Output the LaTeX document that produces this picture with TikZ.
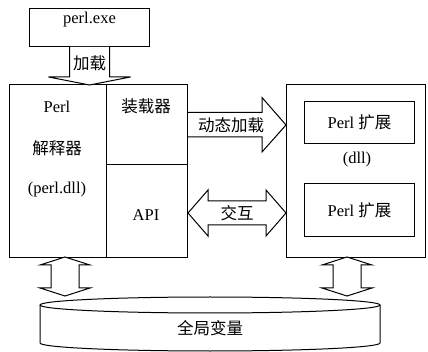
\documentclass[tikz,border=0pt]{standalone}
\usepackage{fontspec}
\setmainfont{Liberation Serif}
\newfontfamily\cjk{Noto Sans CJK SC}
\usetikzlibrary{calc}

\begin{document}
\begin{tikzpicture} [x=1pt, y=-1pt, line width=1pt, font=\fontsize{16.5}{20}\selectfont,
  box/.style={draw, inner sep=0, anchor=north west},
  txt/.style={inner sep=1}]
\useasboundingbox (0,0) rectangle (428,352);
% boxes
\node[box, minimum width=120, minimum height=38] (exe) at (29,8) {};
\node[box, minimum width=97, minimum height=173] (interp) at (9,84) {};
\node[box, minimum width=81, minimum height=80] (loader) at (106,84) {};
\node[box, minimum width=81, minimum height=93] (api) at (106,164) {};
\node[box, minimum width=139, minimum height=173] (ext) at (286,84) {};
\node[box, minimum width=110, minimum height=42] (extA) at (304,101) {};
\node[box, minimum width=110, minimum height=53] (extB) at (304,183) {};
% texts
\node[txt] (exeT) at ($(exe.north)+(0,12)$) {perl.exe};
\node[txt] (perlT) at (57,107) {Perl};
\node[txt] (interpT) at (57,148) {\cjk 解释器};
\node[txt] (dllT) at (57,190) {(perl.dll)};
\node[txt] (loaderT) at (146,106) {\cjk 装载器};
\node[txt] (apiT) at (146,215) {API};
\node[txt] (extAT) at (extA) {Perl {\cjk 扩展}};
\node[txt] (extBT) at (extB) {Perl {\cjk 扩展}};
\node[txt] (extT) at (357,160) {(dll)};
% block arrows
\coordinate (L) at (exe.south);
\draw[fill=white] ($(L)+(-20,0)$) --++(0,30) --++(-21,0) -- ($(interp.north -| L)+(0,1)$)
  -- ($(L)+(41,30)$) --++(-21,0) --++(0,-30);
\node[txt] (loadT) at ($(L)+(0,16)$) {\cjk 加载};
\coordinate (D) at ($(loader.east)+(0,0.5)$);
\draw[fill=white] ($(D)+(0,-12.5)$) --++(74,0) --++(0,-15) -- ($(ext.west |- D)$)
  -- ($(D)+(74,27)$) --++(0,-15) --++(-74,0);
\node[txt] (dynT) at ($(D)+(43,0)$) {\cjk 动态加载};
\coordinate (I1) at (api.east |- 0,213);
\coordinate (I2) at (ext.west |- 0,213);
\draw[fill=white] (I1) --++(20,-23) --++(0,11) -- ($(I2)+(-20,-12)$) --++(0,-11) -- (I2)
  --++(-20,23) --++(0,-11) -- ($(I1)+(20,12)$) --++(0,11) -- cycle;
\node[txt] (iaT) at ($(I1)!0.5!(I2)$) {\cjk 交互};
% global variables
\draw (210,305) ellipse (170 and 8);
\draw (40,305) -- (40,343) arc[start angle=180, end angle=0, x radius=170, y radius=8] -- (380,305);
\node[txt] (globT) at (210,328) {\cjk 全局变量};
\foreach \x in {65, 347} {
 \coordinate (T) at (\x,257);
 \draw[fill=white] (T) --++(25,8) --++(-11,0) --++(0,23) --++(11,0) --++(-25,8)
  --++(-25,-8) --++(11,0) --++(0,-23) --++(-11,0) -- cycle;
}
\end{tikzpicture}
\end{document}
